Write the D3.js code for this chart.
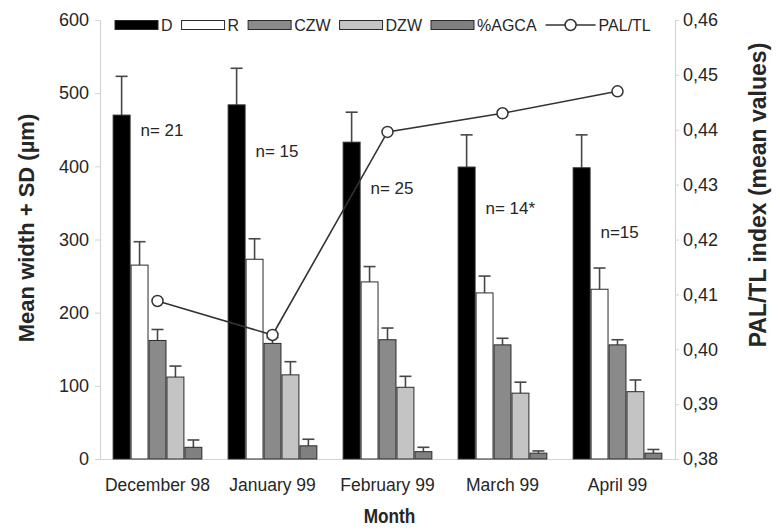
<!DOCTYPE html>
<html><head><meta charset="utf-8">
<script src="https://cdn.jsdelivr.net/npm/d3@7"></script>
<style>
html,body{margin:0;padding:0;background:#fff;}
svg text{font-family:"Liberation Sans",Arial,sans-serif;fill:#262626;}
</style></head>
<body><svg id="c" width="780" height="532"></svg>
<script>
const months = ["December 98","January 99","February 99","March 99","April 99"];
const seriesNames = ["D","R","CZW","DZW","%AGCA"];
const D     = [470, 484, 433, 399, 398];
const D_sd  = [53, 50, 41, 44, 45];
const R     = [265, 273, 242, 227, 232];
const R_sd  = [32, 28, 21, 23, 29];
const CZW   = [162, 158, 163, 156, 156];
const CZW_sd= [15, 8, 16, 9, 7];
const DZW   = [112, 115, 98, 90, 92];
const DZW_sd= [15, 18, 15, 15, 16];
const AGCA  = [16, 18, 10, 8, 8];
const AGCA_sd=[10, 9, 6, 3, 5];
const palTL = [0.4088, 0.4026, 0.4396, 0.4430, 0.4470];
const nLabels = ["n= 21","n= 15","n= 25","n= 14*","n=15"];
const nLabelAt = [450, 421, 370, 343, 310];
const leftTicks = [0,100,200,300,400,500,600];
const rightTicks = [0.38,0.39,0.40,0.41,0.42,0.43,0.44,0.45,0.46];

const means = [D,R,CZW,DZW,AGCA];
const sds = [D_sd,R_sd,CZW_sd,DZW_sd,AGCA_sd];
const fills = ["#000000","#ffffff","#8a8a8a","#c4c4c4","#808080"];

const svg = d3.select("#c");
const L = 100, Rt = 675, T = 20, B = 459;

const x = d3.scaleBand().domain(months).range([L,Rt]).paddingInner(0.22).paddingOuter(0.11);
const xs = d3.scaleBand().domain(seriesNames).range([0,x.bandwidth()]);
const yL = d3.scaleLinear().domain([0,600]).range([B,T]);
const yR = d3.scaleLinear().domain([0.38,0.46]).range([B,T]);

// axes
const axL = svg.append("g").attr("transform",`translate(${L},0)`)
  .call(d3.axisLeft(yL).tickValues(leftTicks).tickSize(5).tickPadding(6).tickSizeOuter(0));
const axR = svg.append("g").attr("transform",`translate(${Rt},0)`)
  .call(d3.axisRight(yR).tickValues(rightTicks).tickSize(4).tickPadding(4).tickSizeOuter(0)
    .tickFormat(d=>d3.format(".2f")(d).replace(".",",")));
const axB = svg.append("g").attr("transform",`translate(0,${B})`)
  .call(d3.axisBottom(x).tickSize(0).tickPadding(20).tickSizeOuter(0));
[axL,axR,axB].forEach(a=>{
  a.selectAll("path.domain").attr("stroke","#d4d4d4").attr("stroke-width",1.2);
  a.selectAll(".tick line").attr("stroke","#d4d4d4");
  a.selectAll("text").attr("font-size",18).attr("font-family","Liberation Sans, Arial, sans-serif").attr("fill","#2a2a2a");
});
axB.selectAll("text").attr("font-size",17.5);

// bars
seriesNames.forEach((s,si)=>{
  const g = svg.append("g");
  months.forEach((m,mi)=>{
    const bx = x(m)+xs(s), bw = xs.bandwidth();
    const v = means[si][mi], e = sds[si][mi];
    g.append("line").attr("x1",bx+bw/2).attr("x2",bx+bw/2)
      .attr("y1",yL(v)).attr("y2",yL(v+e)).attr("stroke","#474747").attr("stroke-width",1.6);
    g.append("line").attr("x1",bx+bw/2-6).attr("x2",bx+bw/2+6)
      .attr("y1",yL(v+e)).attr("y2",yL(v+e)).attr("stroke","#474747").attr("stroke-width",1.6);
    g.append("rect").attr("x",bx+0.5).attr("y",yL(v)).attr("width",bw-1).attr("height",yL(0)-yL(v))
      .attr("fill",fills[si]).attr("stroke","#2a2a2a").attr("stroke-width",1);
  });
});

// n labels
months.forEach((m,mi)=>{
  svg.append("text").attr("x",x(m)+x.bandwidth()*0.31).attr("y",yL(nLabelAt[mi])+6)
    .attr("font-size",17).text(nLabels[mi]);
});

// PAL/TL line
const line = d3.line().x((d,i)=>x(months[i])+x.bandwidth()/2).y(d=>yR(d));
svg.append("path").datum(palTL).attr("d",line).attr("fill","none").attr("stroke","#333").attr("stroke-width",1.6);
svg.selectAll("circle.p").data(palTL).enter().append("circle")
  .attr("cx",(d,i)=>x(months[i])+x.bandwidth()/2).attr("cy",d=>yR(d)).attr("r",5.5)
  .attr("fill","#fff").attr("stroke","#333").attr("stroke-width",1.5);

// legend
const lg = svg.append("g");
let cx = 115; const ly = 25;
seriesNames.forEach((s,si)=>{
  lg.append("rect").attr("x",cx).attr("y",ly-4.5).attr("width",43).attr("height",9)
    .attr("fill",fills[si]).attr("stroke","#2a2a2a").attr("stroke-width",1);
  cx += 46;
  const t = lg.append("text").attr("x",cx).attr("y",ly+6).attr("font-size",16).text(s);
  cx += t.node().getComputedTextLength() + 9;
});
lg.append("line").attr("x1",cx).attr("x2",cx+50).attr("y1",ly).attr("y2",ly).attr("stroke","#333").attr("stroke-width",1.6);
lg.append("circle").attr("cx",cx+25).attr("cy",ly).attr("r",5.5).attr("fill","#fff").attr("stroke","#333").attr("stroke-width",1.5);
lg.append("text").attr("x",cx+53).attr("y",ly+6).attr("font-size",16).text("PAL/TL");

// axis titles
svg.append("text").attr("transform","translate(34,228) rotate(-90)").attr("text-anchor","middle")
  .attr("font-size",22).attr("font-weight","bold").text("Mean width + SD (µm)");
svg.append("text").attr("transform","translate(766,195) rotate(-90)").attr("text-anchor","middle")
  .attr("font-size",23).attr("font-weight","bold").text("PAL/TL index (mean values)");
svg.append("text").attr("transform",`translate(${(L+Rt)/2+2},523) scale(0.82,1)`).attr("text-anchor","middle")
  .attr("font-size",21).attr("font-weight","bold").text("Month");
</script></body></html>
